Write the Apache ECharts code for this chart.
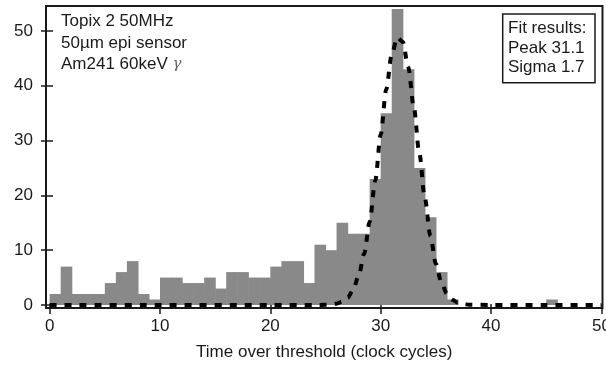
<!DOCTYPE html>
<html><head><meta charset="utf-8">
<script src="https://cdn.jsdelivr.net/npm/echarts@6/dist/echarts.min.js"></script>
<style>html,body{margin:0;padding:0;background:#fff}#c{width:606px;height:370px}</style>
</head><body><div id="c"></div>
<script>
// Histogram bins (left edge of each 1-cycle bin) and counts
const binStarts = [0,1,2,3,4,5,6,7,8,9,10,11,12,13,14,15,16,17,18,19,20,21,22,23,24,25,26,27,28,29,30,31,32,33,34,35,36,37,38,39,40,41,42,43,44,45,46,47,48,49];
const counts    = [2,7,2,2,2,4,6,8,2,1,5,5,4,4,5,3,6,6,5,5,7,8,8,4,11,10,15,13,13,23,35,54,43,25,16,6,1,0,0,0,0,0,0,0,0,1,0,0,0,0];
// Fitted gaussian curve
const fitX = [0,10,20,24,25,26,26.5,27,27.5,28,28.5,29,29.5,30,30.5,31,31.5,32,32.5,33,33.5,34,34.5,35,35.5,36,36.5,37,37.5,38,40,45,50];
const fitY = [0,0,0,0,0.03,0.24,0.58,1.32,2.76,5.29,9.33,15.2,22.6,31.1,39.3,45.7,48.8,48.0,43.4,36.1,27.7,19.5,12.6,7.52,4.12,2.08,0.96,0.41,0.16,0.06,0,0,0];
const xTicks = [0,10,20,30,40,50];
const yTicks = [0,10,20,30,40,50];
const xTitle = 'Time over threshold (clock cycles)';
const infoLines = ['Topix 2 50MHz','50µm epi sensor','Am241 60keV'];
const gammaSym = 'γ';
const fitLines = ['Fit results:','Peak 31.1','Sigma 1.7'];

const FONT = 'Liberation Sans, Arial, Helvetica, sans-serif';
const INK = '#1a1a1a';
const chart = echarts.init(document.getElementById('c'), null, {renderer:'canvas'});

function xAx(inside){
  return {
    type:'value', min:-0.33, max:50.1, position:'bottom',
    axisLine:{show:!inside, onZero:false, lineStyle:{color:INK, width:1.5}},
    axisTick:{show:true, customValues:xTicks, inside:inside, length:inside?4:6, lineStyle:{color:INK, width:1.5}},
    axisLabel:{show:!inside, customValues:xTicks, margin:10, fontSize:17, color:INK, fontFamily:FONT},
    splitLine:{show:false},
    name: inside ? '' : xTitle, nameLocation:'middle', nameGap:36,
    nameTextStyle:{fontSize:17, color:INK, fontFamily:FONT}
  };
}
function yAx(inside){
  return {
    type:'value', min:-0.55, max:54.55, position:'left',
    axisLine:{show:!inside, onZero:false, lineStyle:{color:INK, width:1.5}},
    axisTick:{show:true, customValues:yTicks, inside:inside, length:inside?7:5, lineStyle:{color:INK, width:1.5}},
    axisLabel:{show:!inside, customValues:yTicks, margin:13, fontSize:17, color:INK, fontFamily:FONT},
    splitLine:{show:false}
  };
}

const option = {
  animation:false,
  backgroundColor:'#fff',
  grid:{left:46, right:3.5, top:6, bottom:62, containLabel:false, outerBoundsMode:'none',
        show:true, borderColor:INK, borderWidth:2, backgroundColor:'transparent'},
  xAxis:[xAx(false), xAx(true)],
  yAxis:[yAx(false), yAx(true)],
  series:[
    {
      type:'custom', xAxisIndex:0, yAxisIndex:0,
      data: binStarts.map((b,i)=>[b, counts[i]]),
      renderItem:(params, api)=>{
        const x0 = api.value(0), v = api.value(1);
        if (!v) return null;
        const p0 = api.coord([x0, 0]);
        const p1 = api.coord([x0+1, v]);
        return {type:'rect', shape:{x:p0[0], y:p1[1], width:p1[0]-p0[0]+0.6, height:p0[1]-p1[1]},
                style:{fill:'#898989'}};
      },
      z:2
    },
    {
      type:'line', xAxisIndex:0, yAxisIndex:0,
      data: fitX.map((x,i)=>[x, fitY[i]]),
      symbol:'none', smooth:0.3, smoothMonotone:'x',
      lineStyle:{color:'#000', width:4, type:[7,8]},
      z:3
    }
  ],
  graphic:[
    {type:'text', left:61, top:13, z:10, style:{text:infoLines[0], fontSize:17, fontFamily:FONT, fill:INK}},
    {type:'text', left:61, top:34.5, z:10, style:{text:infoLines[1], fontSize:17, fontFamily:FONT, fill:INK}},
    {type:'text', left:61, top:56, z:10, style:{text:infoLines[2]+' {g|'+gammaSym+'}', fontSize:17, fontFamily:FONT, fill:INK,
      rich:{g:{fontSize:15, fontStyle:'italic', fill:'#666', fontFamily:'DejaVu Serif, serif'}}}},
    {type:'rect', z:10, shape:{x:502.7, y:14, width:92.3, height:68.7},
      style:{fill:'#fff', stroke:INK, lineWidth:1.5}},
    {type:'text', left:508, top:20, z:11, style:{text:fitLines[0], fontSize:17, fontFamily:FONT, fill:INK}},
    {type:'text', left:508, top:40, z:11, style:{text:fitLines[1], fontSize:17, fontFamily:FONT, fill:INK}},
    {type:'text', left:508, top:58.5, z:11, style:{text:fitLines[2], fontSize:17, fontFamily:FONT, fill:INK}}
  ]
};
chart.setOption(option);
</script>
</body></html>
